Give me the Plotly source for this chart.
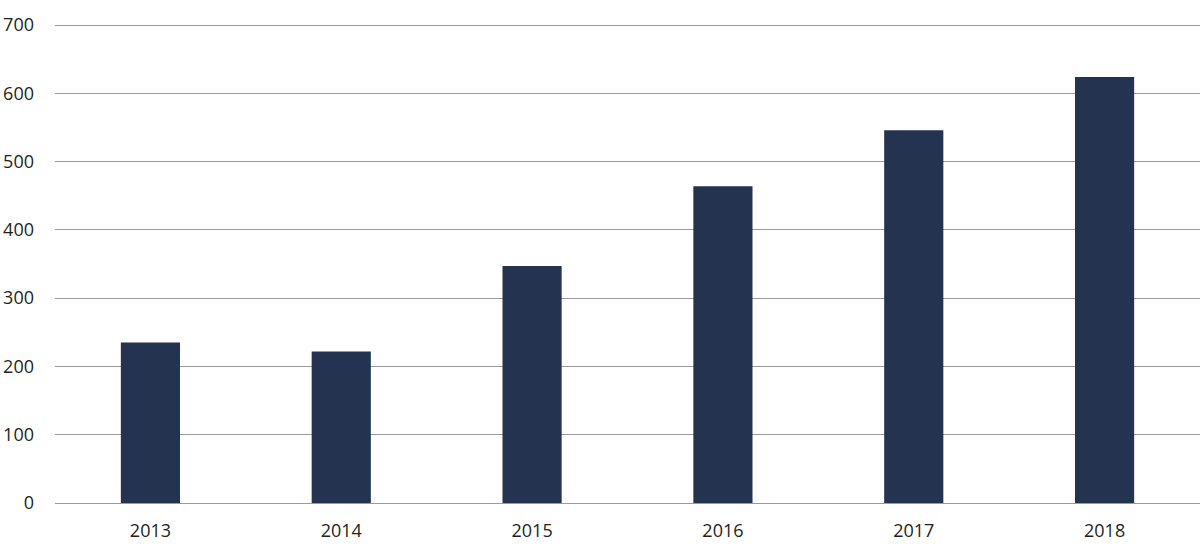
import plotly.graph_objects as go

years = ["2013", "2014", "2015", "2016", "2017", "2018"]
values = [235, 222, 347, 464, 546, 624]
y_ticks = [0, 100, 200, 300, 400, 500, 600, 700]

fig = go.Figure(
    go.Bar(
        x=years,
        y=values,
        marker=dict(color="#233350", line=dict(width=0)),
        hoverinfo="x+y",
    )
)

fig.update_layout(
    width=1200,
    height=558,
    margin=dict(l=55, r=0, t=23, b=55),
    paper_bgcolor="white",
    plot_bgcolor="white",
    bargap=0.69,
    showlegend=False,
    font=dict(family="Open Sans, Liberation Sans, sans-serif", size=18, color="#231f20"),
)

fig.update_xaxes(
    type="category",
    showgrid=False,
    showline=False,
    zeroline=False,
    ticks="",
    ticklabelstandoff=15,
    automargin=False,
)

fig.update_yaxes(
    range=[0, 703],
    tickvals=y_ticks,
    ticktext=[str(v) for v in y_ticks],
    showgrid=True,
    gridcolor="#9a9a9a",
    gridwidth=1,
    zeroline=True,
    zerolinecolor="#9a9a9a",
    zerolinewidth=1,
    showline=False,
    ticks="",
    ticklabelstandoff=20,
    automargin=False,
)

fig.write_html(
    "out.html",
    config={"displayModeBar": False},
    post_script="document.body.style.margin='0';",
)
